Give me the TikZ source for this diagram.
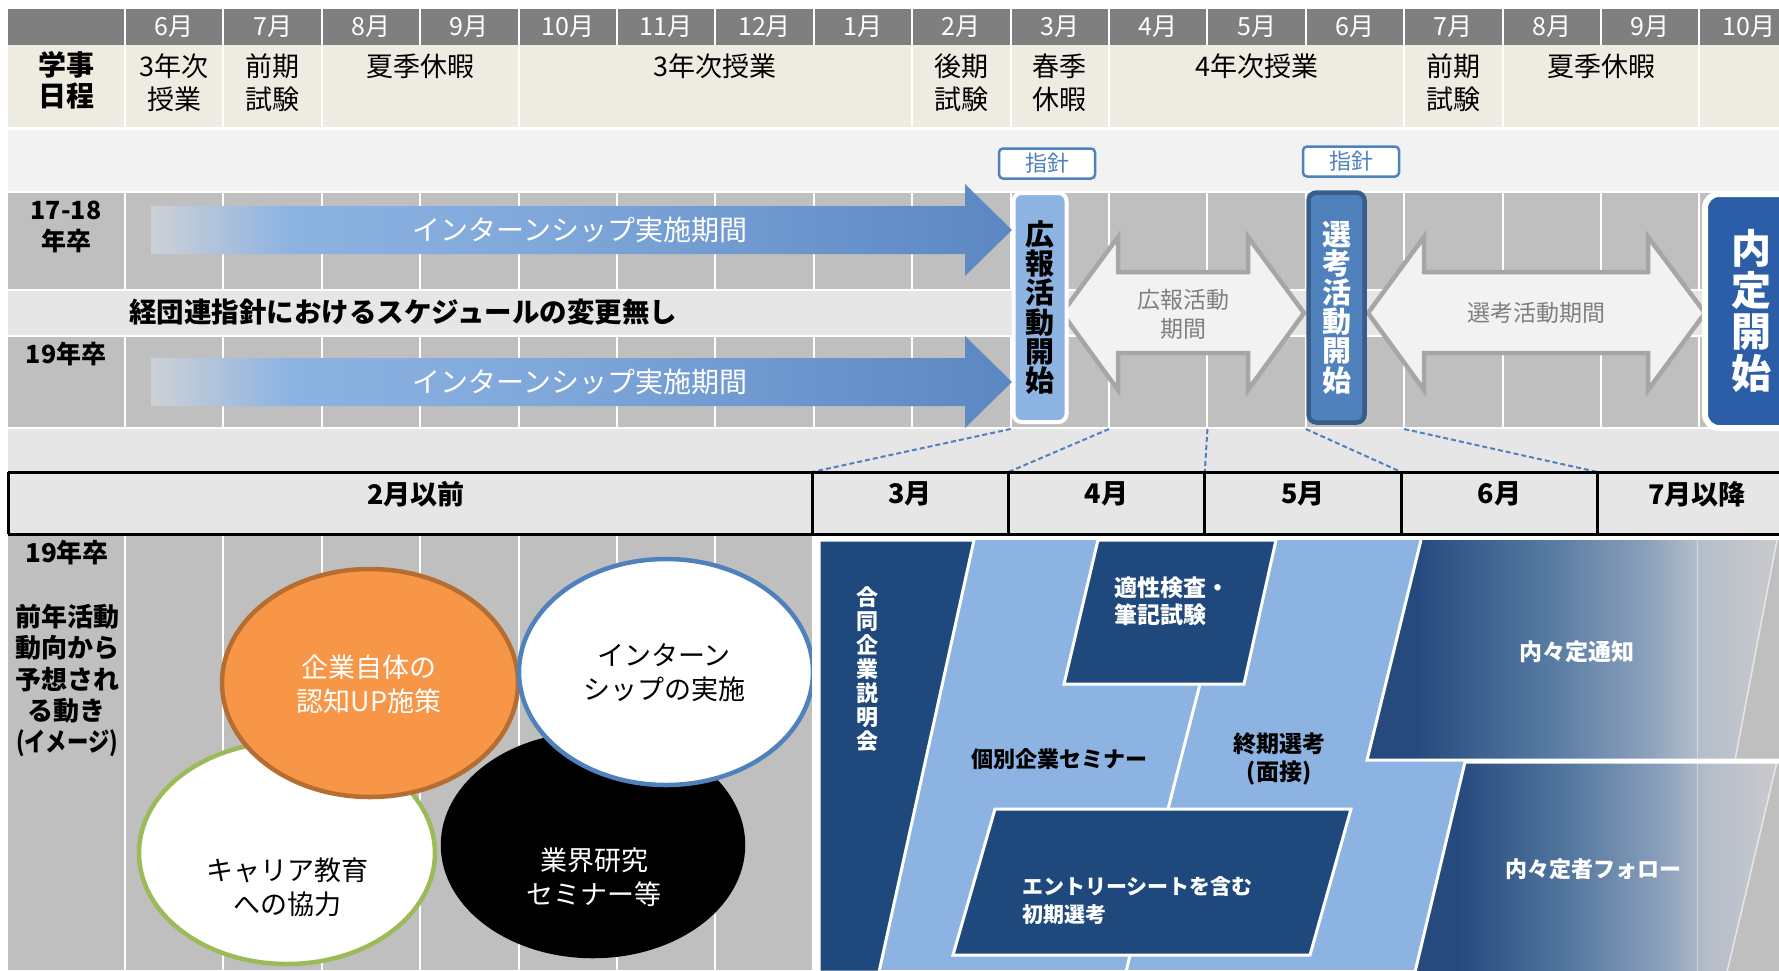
\documentclass[tikz,border=0pt]{standalone}
\usepackage{fontspec}
\setmainfont{Noto Sans CJK JP}
\usetikzlibrary{shapes.geometric}

\newlength{\du}
\setlength{\du}{1pt}

\definecolor{hdrgray}{HTML}{7F7F7F}
\definecolor{beige}{HTML}{EEECE1}
\definecolor{rowlight}{HTML}{F2F2F2}
\definecolor{rowgray}{HTML}{BFBFBF}
\definecolor{bandgray}{HTML}{E6E6E6}
\definecolor{lightblue}{HTML}{8DB3E2}
\definecolor{midblue}{HTML}{4F81BD}
\definecolor{darkblue}{HTML}{385D8A}
\definecolor{naiteiblue}{HTML}{2B5EA7}
\definecolor{navy}{HTML}{1F497D}
\definecolor{arrowgray}{HTML}{A6A6A6}
\definecolor{textgray}{HTML}{7F7F7F}
\definecolor{orangefill}{HTML}{F79646}
\definecolor{orangeline}{HTML}{B66D31}
\definecolor{greenline}{HTML}{9BBB59}
\definecolor{dashblue}{HTML}{4F81BD}

% shadings
\definecolor{inA}{HTML}{CDD1D6}
\definecolor{inB}{HTML}{8DB3E2}
\definecolor{inC}{HTML}{7FA7DA}
\definecolor{inD}{HTML}{5B87C2}
\pgfdeclarehorizontalshading{internshade}{100bp}{color(0bp)=(inA); color(25bp)=(inA); color(33bp)=(inB); color(48bp)=(inC); color(75bp)=(inD); color(100bp)=(inD)}
\definecolor{ntA}{HTML}{264A7E}
\definecolor{ntB}{HTML}{577AA2}
\definecolor{ntC}{HTML}{8BA0BB}
\definecolor{ntD}{HTML}{B3BDCA}
\definecolor{ntE}{HTML}{C6C8CC}
\pgfdeclarehorizontalshading{naiteishade}{100bp}{color(0bp)=(ntA); color(31bp)=(ntA); color(47bp)=(ntB); color(59bp)=(ntC); color(65bp)=(ntD); color(73bp)=(ntE); color(100bp)=(ntE)}

\tikzset{
  colsep/.style={draw=white, line width=2\du},
  monlabel/.style={text=white, inner sep=0pt, font=\fontsize{25}{30}\selectfont},
  termtext/.style={align=center, inner sep=0pt, font=\fontsize{27}{33}\selectfont},
  rowlabel/.style={align=center, inner sep=0pt, font=\bfseries\fontsize{25}{31}\selectfont},
  interntext/.style={text=white, inner sep=0pt, font=\fontsize{28}{32}\selectfont},
  shishinbox/.style={draw=midblue, line width=2.5\du, fill=white, rounded corners=4\du, text=midblue, minimum width=96\du, minimum height=30\du, inner sep=0pt, font=\fontsize{22}{26}\selectfont},
  startbox/.style={rounded corners=8\du, align=center, inner sep=0pt, font=\bfseries\fontsize{29}{29.2}\selectfont},
  periodarrow/.style={fill=rowlight, draw=arrowgray, line width=4.5\du},
  periodtext/.style={text=textgray, align=center, inner sep=0pt, font=\fontsize{23}{29}\selectfont},
  dashline/.style={draw=dashblue, line width=2\du, dash pattern=on 5\du off 3\du},
  monthhead/.style={inner sep=0pt, font=\bfseries\fontsize{27}{30}\selectfont},
  bubble/.style={ellipse, line width=4.5\du, inner sep=0pt},
  bubbletext/.style={align=center, inner sep=0pt, font=\fontsize{27}{34}\selectfont},
  stagebox/.style={fill=navy, draw=white, line width=3\du},
  stagetext/.style={align=center, inner sep=0pt, font=\bfseries\fontsize{22}{28}\selectfont},
}

\begin{document}
\begin{tikzpicture}
\pgftransformyscale{-1.000000}
\useasboundingbox (0\du,0\du) rectangle (1779\du,970\du);
\clip (0\du,0\du) rectangle (1779\du,970\du);
\fill[white] (0\du,0\du) rectangle (1779\du,970\du);

% rows
\fill[hdrgray] (8\du,9\du) rectangle (1779\du,45\du);
\fill[beige] (8\du,45\du) rectangle (1779\du,127\du);
\fill[rowlight] (8\du,130\du) rectangle (1779\du,191\du);
\fill[rowgray] (8\du,193\du) rectangle (1779\du,289\du);
\fill[bandgray] (8\du,291\du) rectangle (1779\du,335\du);
\fill[rowgray] (8\du,337\du) rectangle (1779\du,427\du);
\fill[bandgray] (8\du,429\du) rectangle (1779\du,471\du);

\foreach \k in {0,...,16}{
  \pgfmathsetmacro{\xk}{125+\k*98.4}
  \draw[colsep] (\xk\du,9\du) -- (\xk\du,45\du);
  \draw[colsep] (\xk\du,193\du) -- (\xk\du,289\du);
  \draw[colsep] (\xk\du,337\du) -- (\xk\du,427\du);
}
\foreach \k in {0,1,2,4,8,9,10,13,14,16}{
  \pgfmathsetmacro{\xk}{125+\k*98.4}
  \draw[colsep] (\xk\du,45\du) -- (\xk\du,127\du);
}

\foreach \m [count=\i from 0] in {6,7,8,9,10,11,12,1,2,3,4,5,6,7,8,9,10}{
  \pgfmathsetmacro{\xc}{174.2+\i*98.4}
  \node[monlabel] (mon\i) at (\xc\du,27\du) {\m 月};
}

\node[rowlabel, font=\bfseries\fontsize{28}{31}\selectfont] (gakuji) at (66\du,80.5\du) {学事\\日程};
\node[termtext] (t6) at (174.2\du,82.5\du) {3年次\\授業};
\node[termtext] (t7) at (272.6\du,82.5\du) {前期\\試験};
\node[termtext] (t89) at (420.2\du,66\du) {夏季休暇};
\node[termtext] (t10) at (715.4\du,66\du) {3年次授業};
\node[termtext] (t2) at (961.4\du,82.5\du) {後期\\試験};
\node[termtext] (t3) at (1059.8\du,82.5\du) {春季\\休暇};
\node[termtext] (t4) at (1256.6\du,66\du) {4年次授業};
\node[termtext] (t7b) at (1453.4\du,82.5\du) {前期\\試験};
\node[termtext] (t89b) at (1601\du,66\du) {夏季休暇};

\node[rowlabel] (lab1718) at (66\du,226.5\du) {17-18\\年卒};
\node[rowlabel] (lab19a) at (66\du,354\du) {19年卒};

% internship arrows
\shade[shading=internshade] (151\du,206\du) -- (965\du,206\du) -- (965\du,184\du) -- (1012\du,230\du) -- (965\du,276\du) -- (965\du,254\du) -- (151\du,254\du) -- cycle;
\shade[shading=internshade] (151\du,358\du) -- (965\du,358\du) -- (965\du,336\du) -- (1012\du,382\du) -- (965\du,428\du) -- (965\du,406\du) -- (151\du,406\du) -- cycle;
\node[interntext] (intern1) at (580\du,230\du) {インターンシップ実施期間};
\node[interntext] (intern2) at (580\du,382\du) {インターンシップ実施期間};

\node[anchor=west, inner sep=0pt, font=\bfseries\fontsize{27.5}{30}\selectfont] (keidanren) at (129\du,312\du) {経団連指針におけるスケジュールの変更無し};

\node[shishinbox] (shishin1) at (1047\du,163.5\du) {指針};
\node[shishinbox] (shishin2) at (1351\du,161.5\du) {指針};

% period arrows
\draw[periodarrow] (1062\du,313\du) -- (1118\du,237\du) -- (1118\du,272\du) -- (1248\du,272\du) -- (1248\du,237\du) -- (1304\du,313\du) -- (1248\du,390\du) -- (1248\du,353\du) -- (1118\du,353\du) -- (1118\du,390\du) -- cycle;
\draw[periodarrow] (1368\du,313\du) -- (1424\du,237\du) -- (1424\du,272\du) -- (1648\du,272\du) -- (1648\du,237\du) -- (1705\du,313\du) -- (1648\du,390\du) -- (1648\du,353\du) -- (1424\du,353\du) -- (1424\du,390\du) -- cycle;
\node[periodtext] (kohoterm) at (1183\du,314\du) {広報活動\\期間};
\node[periodtext] (senkoterm) at (1536\du,313\du) {選考活動期間};

\node[startbox, fill=lightblue, draw=white, line width=4\du, minimum width=53\du, minimum height=229\du] (koho) at (1040\du,307.5\du) {広\\報\\活\\動\\開\\始};
\node[startbox, fill=midblue, draw=darkblue, line width=4.5\du, text=white, minimum width=56\du, minimum height=230\du] (senko) at (1336.5\du,307.5\du) {選\\考\\活\\動\\開\\始};
\node[startbox, fill=naiteiblue, draw=white, line width=6\du, text=white, minimum width=92\du, minimum height=234\du, rounded corners=14\du, font=\bfseries\fontsize{40}{41.7}\selectfont] (naitei) at (1751\du,311\du) {内\\定\\開\\始};

\foreach \i in {0,...,4}{
  \pgfmathsetmacro{\xt}{1010.6+\i*98.4}
  \pgfmathsetmacro{\xb}{812+\i*196.4}
  \coordinate (dt\i) at (\xt\du,429\du);
  \coordinate (db\i) at (\xb\du,472\du);
  \draw[dashline] (dt\i) -- (db\i);
}

% lower left
\fill[rowgray] (8\du,534\du) rectangle (812\du,970\du);
\foreach \k in {0,...,7}{
  \pgfmathsetmacro{\xk}{125+\k*98.4}
  \draw[colsep] (\xk\du,534\du) -- (\xk\du,970\du);
}
\node[rowlabel, font=\bfseries\fontsize{26}{31}\selectfont] (lab19b) at (67\du,553\du) {19年卒};
\node[rowlabel, font=\bfseries\fontsize{26}{31.3}\selectfont] (movelab) at (67\du,680.5\du) {前年活動\\動向から\\予想され\\る動き\\\scalebox{0.82}[1]{(イメージ)}};

\node[bubble, draw=greenline, fill=white, minimum width=296\du, minimum height=222\du] (career) at (287\du,853\du) {};
\node[bubble, draw=black, fill=black, minimum width=300\du, minimum height=222\du] (gyokai) at (593\du,845\du) {};
\node[bubble, draw=orangeline, fill=orangefill, minimum width=296\du, minimum height=228\du] (ninchi) at (370\du,683\du) {};
\node[bubble, draw=midblue, fill=white, minimum width=294\du, minimum height=226\du] (intern) at (666\du,672\du) {};
\node[bubbletext] (careertxt) at (287\du,887.5\du) {キャリア教育\\への協力};
\node[bubbletext, text=white] (gyokaitxt) at (594\du,877.5\du) {業界研究\\セミナー等};
\node[bubbletext, text=white] (ninchitxt) at (369\du,684\du) {企業自体の\\認知UP施策};
\node[bubbletext] (interntxt) at (664\du,672.5\du) {インターン\\シップの実施};

% lower right
\fill[white] (812\du,534\du) rectangle (1779\du,970\du);
\fill[lightblue] (819\du,540\du) rectangle (1779\du,970\du);
\draw[stagebox] (819\du,540\du) -- (974\du,540\du) -- (879\du,972\du) -- (819\du,972\du) -- cycle;
\draw[stagebox] (1098\du,540\du) -- (1276\du,540\du) -- (1244\du,684\du) -- (1064\du,684\du) -- cycle;
\draw[white, line width=3\du] (1200\du,684\du) -- (1168\du,809\du);
\draw[stagebox] (995\du,809\du) -- (1351\du,809\du) -- (1310\du,955\du) -- (953\du,955\du) -- cycle;
\draw[white, line width=3\du] (1130\du,955\du) -- (1126\du,972\du);
\shade[shading=naiteishade] (1421\du,540\du) -- (1779\du,540\du) -- (1779\du,760\du) -- (1367\du,760\du) -- cycle;
\shade[shading=naiteishade] (1465\du,762\du) -- (1779\du,762\du) -- (1779\du,972\du) -- (1415\du,972\du) -- cycle;
\fill[rowgray] (1777\du,540\du) -- (1779\du,540\du) -- (1779\du,760\du) -- (1735\du,760\du) -- cycle;
\fill[rowgray] (1777\du,762\du) -- (1779\du,762\du) -- (1779\du,972\du) -- (1727\du,972\du) -- cycle;
\draw[white, opacity=0.6, line width=1.5\du] (1777\du,540\du) -- (1735\du,760\du);
\draw[white, opacity=0.6, line width=1.5\du] (1777\du,762\du) -- (1727\du,972\du);
\draw[white, opacity=0.4, line width=1\du] (1697\du,540\du) -- (1697\du,972\du);
\draw[white, line width=3\du] (1421\du,540\du) -- (1367\du,760\du) -- (1779\du,760\du);
\draw[white, line width=3\du] (1779\du,762\du) -- (1465\du,762\du) -- (1415\du,972\du);

\node[stagetext, text=white, font=\bfseries\fontsize{22}{24}\selectfont] (goudou) at (867\du,669\du) {合\\同\\企\\業\\説\\明\\会};
\node[stagetext, text=white, anchor=west, align=left, font=\bfseries\fontsize{23}{27}\selectfont] (tekisei) at (1114\du,601.5\du) {適性検査・\\筆記試験};
\node[stagetext] (kobetsu) at (1059\du,759\du) {個別企業セミナー};
\node[stagetext, font=\bfseries\fontsize{23}{28}\selectfont] (shuki) at (1279\du,759\du) {終期選考\\(面接)};
\node[stagetext, text=white, anchor=west, align=left, font=\bfseries\fontsize{21}{28}\selectfont] (entry) at (1022\du,901\du) {エントリーシートを含む\\初期選考};
\node[stagetext, text=white, font=\bfseries\fontsize{23}{28}\selectfont] (tsuchi) at (1577\du,652\du) {内々定通知};
\node[stagetext, text=white] (follow) at (1593\du,869\du) {内々定者フォロー};

% month table
\fill[bandgray] (8\du,472\du) rectangle (1779\du,534\du);
\draw[line width=3\du] (8\du,472\du) -- (1779\du,472\du);
\draw[line width=3\du] (8\du,534\du) -- (1779\du,534\du);
\foreach \x in {8,812,1008.4,1204.8,1401.2,1597.6}{
  \draw[line width=3\du] (\x\du,472\du) -- (\x\du,534\du);
}
\node[monthhead] (h0) at (416\du,494\du) {2月以前};
\node[monthhead] (h3) at (910\du,494\du) {3月};
\node[monthhead] (h4) at (1106.6\du,494\du) {4月};
\node[monthhead] (h5) at (1303\du,494\du) {5月};
\node[monthhead] (h6) at (1499.4\du,494\du) {6月};
\node[monthhead] (h7) at (1697\du,494\du) {7月以降};
\end{tikzpicture}
\end{document}
